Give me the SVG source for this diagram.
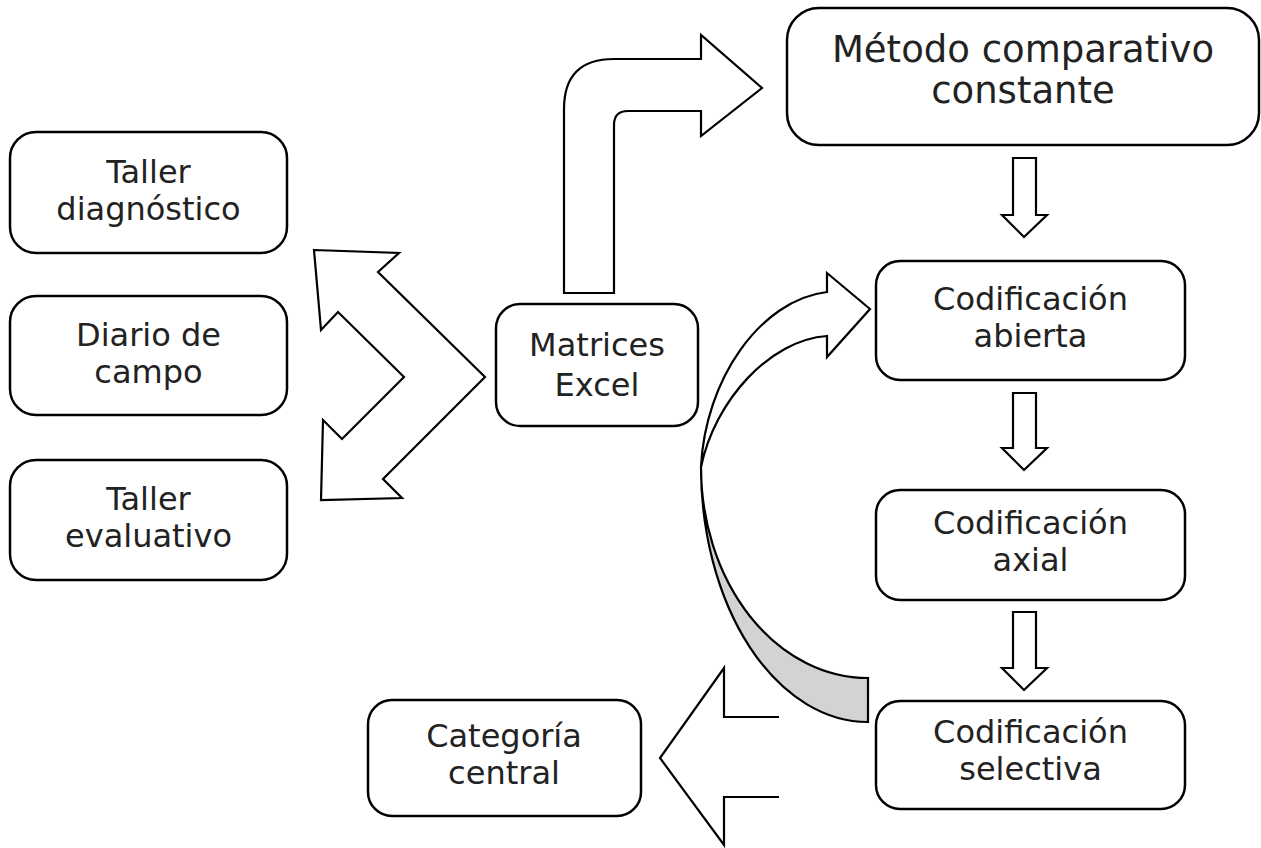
<svg xmlns="http://www.w3.org/2000/svg" width="1261" height="848" viewBox="0 0 1261 848">
<style>
.box{fill:#fff;stroke:#000;stroke-width:2.5}
.arr{fill:#fff;stroke:#000;stroke-width:2.2;stroke-linejoin:miter}
.t{font-family:"DejaVu Sans",Verdana,sans-serif;font-size:32px;fill:#222;text-anchor:middle}
.big{font-size:37px}
</style>
<rect width="1261" height="848" fill="#fff"/>
<g id="connectors">
<path class="arr" d="M314,250 L399,253 L378,272 L485,377 L383,479 L402,498 L321,500 L323,420 L342,439 L404,377 L338,312 L321,330 Z"/>
<path class="arr" d="M564,293 L564,109 Q564,59 614,59 L701,59 L701,35 L762,88 L701,136 L701,111 L628,111 Q614,111 614,125 L614,293 Z"/>
<path class="arr" d="M1013,158 L1036,158 L1036,215 L1047,215 L1024,237 L1002,215 L1013,215 Z"/>
<path class="arr" d="M1013,393 L1036,393 L1036,448 L1047,448 L1024,470 L1002,448 L1013,448 Z"/>
<path class="arr" d="M1013,612 L1036,612 L1036,668 L1047,668 L1024,690 L1002,668 L1013,668 Z"/>
<path d="M701,467 A167,255 0 0 0 868,722 L868,678 A167,211 0 0 1 701,467 Z" fill="#d3d3d3" stroke="#000" stroke-width="2.2"/>
<path class="arr" d="M701,467 C705,380 760,300 827,292 L827,273 L870,309 L827,357 L827,336 C770,340 715,400 701,467 Z"/>
<path class="arr" d="M779,717 L724,717 L724,668 L660,758 L724,845 L724,797 L779,797"/>
</g>
<g id="n1"><rect class="box" x="10" y="132" width="277" height="121" rx="26"/><text class="t" x="148.5" y="183">Taller</text><text class="t" x="148.5" y="220">diagnóstico</text></g>
<g id="n2"><rect class="box" x="10" y="296" width="277" height="119" rx="26"/><text class="t" x="148.5" y="346">Diario de</text><text class="t" x="148.5" y="383">campo</text></g>
<g id="n3"><rect class="box" x="10" y="460" width="277" height="120" rx="26"/><text class="t" x="148.5" y="510">Taller</text><text class="t" x="148.5" y="547">evaluativo</text></g>
<g id="n4"><rect class="box" x="496" y="304" width="202" height="122" rx="24"/><text class="t" x="597" y="356">Matrices</text><text class="t" x="597" y="396">Excel</text></g>
<g id="n5"><rect class="box" x="787" y="8" width="472" height="137" rx="32"/><text class="t big" x="1023" y="62">Método comparativo</text><text class="t big" x="1023" y="103">constante</text></g>
<g id="n6"><rect class="box" x="876" y="261" width="309" height="119" rx="24"/><text class="t" x="1030.5" y="310">Codificación</text><text class="t" x="1030.5" y="347">abierta</text></g>
<g id="n7"><rect class="box" x="876" y="490" width="309" height="110" rx="24"/><text class="t" x="1030.5" y="534">Codificación</text><text class="t" x="1030.5" y="571">axial</text></g>
<g id="n8"><rect class="box" x="876" y="701" width="309" height="108" rx="24"/><text class="t" x="1030.5" y="743">Codificación</text><text class="t" x="1030.5" y="780">selectiva</text></g>
<g id="n9"><rect class="box" x="368" y="700" width="273" height="116" rx="24"/><text class="t" x="504" y="747">Categoría</text><text class="t" x="504" y="784">central</text></g>
</svg>
